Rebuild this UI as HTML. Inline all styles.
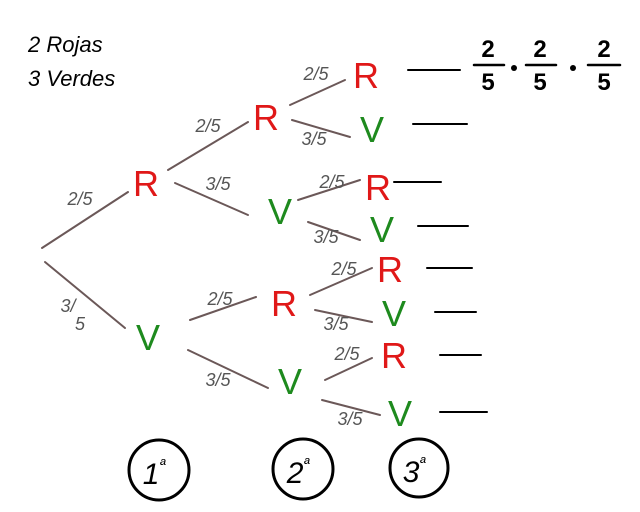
<!DOCTYPE html>
<html><head><meta charset="utf-8"><style>
html,body{margin:0;padding:0;background:#fff;}
svg{display:block}
text{font-family:"Liberation Sans",sans-serif;}
</style></head><body>
<svg width="640" height="512" viewBox="0 0 640 512" xmlns="http://www.w3.org/2000/svg">
<g stroke="#6b5858" stroke-width="2" stroke-linecap="round" fill="none">
<line x1="42" y1="248" x2="128" y2="192"/>
<line x1="45" y1="262" x2="125" y2="328"/>
<line x1="168" y1="170" x2="248" y2="122"/>
<line x1="175" y1="183" x2="248" y2="215"/>
<line x1="190" y1="320" x2="256" y2="297"/>
<line x1="188" y1="350" x2="268" y2="388"/>
<line x1="290" y1="105" x2="345" y2="80"/>
<line x1="292" y1="120" x2="350" y2="137"/>
<line x1="298" y1="200" x2="360" y2="180"/>
<line x1="308" y1="222" x2="360" y2="240"/>
<line x1="310" y1="295" x2="372" y2="268"/>
<line x1="315" y1="310" x2="372" y2="322"/>
<line x1="325" y1="380" x2="372" y2="358"/>
<line x1="322" y1="400" x2="380" y2="415"/>
</g>
<g stroke="#000" stroke-width="2" stroke-linecap="round">
<line x1="408" y1="70" x2="460" y2="70"/>
<line x1="413" y1="124" x2="467" y2="124"/>
<line x1="394" y1="182" x2="441" y2="182"/>
<line x1="418" y1="226" x2="468" y2="226"/>
<line x1="427" y1="268" x2="472" y2="268"/>
<line x1="435" y1="312" x2="476" y2="312"/>
<line x1="440" y1="355" x2="481" y2="355"/>
<line x1="440" y1="412" x2="487" y2="412"/>
</g>
<g font-size="36" text-anchor="middle">
<text x="146" y="196" fill="#e01818">R</text>
<text x="148" y="350" fill="#1e8a1e">V</text>
<text x="266" y="130" fill="#e01818">R</text>
<text x="280" y="224" fill="#1e8a1e">V</text>
<text x="284" y="316" fill="#e01818">R</text>
<text x="290" y="394" fill="#1e8a1e">V</text>
<text x="366" y="88" fill="#e01818">R</text>
<text x="372" y="142" fill="#1e8a1e">V</text>
<text x="378" y="200" fill="#e01818">R</text>
<text x="382" y="242" fill="#1e8a1e">V</text>
<text x="390" y="282" fill="#e01818">R</text>
<text x="394" y="326" fill="#1e8a1e">V</text>
<text x="394" y="368" fill="#e01818">R</text>
<text x="400" y="426" fill="#1e8a1e">V</text>
</g>
<g font-size="18" fill="#555" font-style="italic" text-anchor="middle">
<text x="80" y="205">2/5</text>
<text x="68" y="312">3/</text><text x="80" y="330">5</text>
<text x="208" y="132">2/5</text>
<text x="218" y="190">3/5</text>
<text x="220" y="305">2/5</text>
<text x="218" y="386">3/5</text>
<text x="316" y="80">2/5</text>
<text x="314" y="145">3/5</text>
<text x="332" y="188">2/5</text>
<text x="326" y="243">3/5</text>
<text x="344" y="275">2/5</text>
<text x="336" y="330">3/5</text>
<text x="347" y="360">2/5</text>
<text x="350" y="425">3/5</text>
</g>
<g font-size="22" font-style="italic">
<text x="28" y="52">2 Rojas</text>
<text x="28" y="86">3 Verdes</text>
</g>
<g font-size="24" font-weight="bold" text-anchor="middle">
<text x="488" y="57">2</text><text x="488" y="90">5</text>
<text x="540" y="57">2</text><text x="540" y="90">5</text>
<text x="604" y="57">2</text><text x="604" y="90">5</text>
</g>
<g stroke="#000" stroke-width="2.5" stroke-linecap="round">
<line x1="474" y1="65" x2="504" y2="65"/>
<line x1="526" y1="65" x2="556" y2="65"/>
<line x1="588" y1="65" x2="620" y2="65"/>
</g>
<circle cx="514" cy="68" r="3" fill="#000"/>
<circle cx="573" cy="68" r="3" fill="#000"/>
<g fill="none" stroke="#000" stroke-width="3">
<circle cx="159" cy="470" r="30"/>
<circle cx="303" cy="469" r="30"/>
<circle cx="419" cy="468" r="29"/>
</g>
<g font-size="30" font-style="italic" text-anchor="middle">
<text x="154" y="484">1<tspan font-size="16" dy="-14">ª</tspan></text>
<text x="298" y="483">2<tspan font-size="16" dy="-14">ª</tspan></text>
<text x="414" y="482">3<tspan font-size="16" dy="-14">ª</tspan></text>
</g>
</svg>
</body></html>
